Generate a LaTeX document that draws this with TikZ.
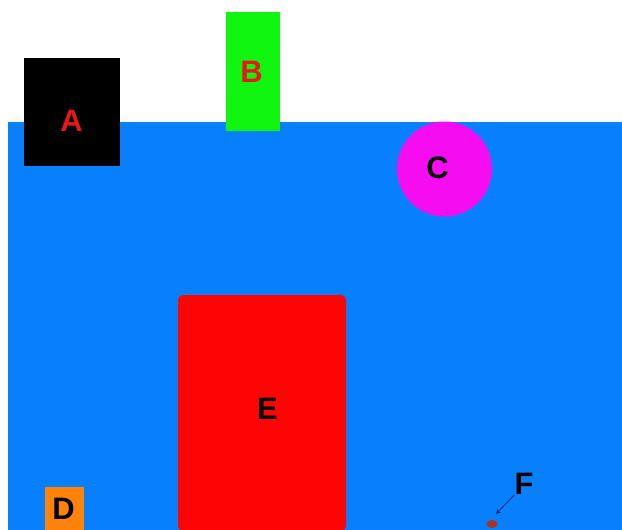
\documentclass[tikz,border=0pt]{standalone}
\usepackage{fontspec}
\setmainfont{Liberation Sans}
\usetikzlibrary{arrows.meta, shapes.geometric}
\definecolor{water}{RGB}{8,128,252}
\definecolor{boxgreen}{RGB}{16,245,16}
\definecolor{ballpink}{RGB}{245,12,240}
\definecolor{bigred}{RGB}{255,4,4}
\definecolor{crate}{RGB}{255,130,10}
\definecolor{lblred}{RGB}{232,24,24}
\definecolor{pebble}{RGB}{175,48,30}
\definecolor{pointer}{RGB}{25,40,120}

\begin{document}
\begin{tikzpicture}[
  x=1pt, y=-1pt,
  obj/.style={inner sep=0pt, outer sep=0pt, draw=none},
  lbl/.style={inner sep=0pt, font=\bfseries\fontsize{31}{31}\selectfont},
  a/.style={-{Stealth[length=5pt, width=5pt]}, line width=0.8pt, draw=pointer}
]
\useasboundingbox (0,0) rectangle (622,530);

% ---- water ----
\fill[water] (8,122) rectangle (622,530);

% ---- floating things ----
\node[obj, fill=black, minimum width=96pt, minimum height=108pt] (boxA) at (72,112) {};
\node[lbl, text=lblred] (A) at (71.5,121) {A};

\node[obj, fill=boxgreen, minimum width=54pt, minimum height=119pt] (boxB) at (253,71.5) {};
\node[lbl, text=lblred] (B) at (251.5,72) {B};

\node[obj, circle, fill=ballpink, minimum size=95pt] (ballC) at (444.5,169) {};
\node[lbl, text=black] (C) at (437.5,168) {C};

% ---- sunk things ----
\node[obj, fill=bigred, rounded corners=5pt, minimum width=168pt, minimum height=236pt] (boxE) at (262,413) {};
\node[lbl, text=black] (E) at (267.5,409) {E};

\node[obj, fill=crate, minimum width=39pt, minimum height=44pt] (boxD) at (64.5,509) {};
\node[lbl, text=black] (D) at (63.5,509) {D};

\node[obj, ellipse, fill=pebble, minimum width=11pt, minimum height=8pt] (dotF) at (492,524) {};
\node[lbl, text=black] (F) at (524,484) {F};
\coordinate (tipF) at (496,514);
\draw[a] (F.south west) -- (tipF);

\end{tikzpicture}
\end{document}
